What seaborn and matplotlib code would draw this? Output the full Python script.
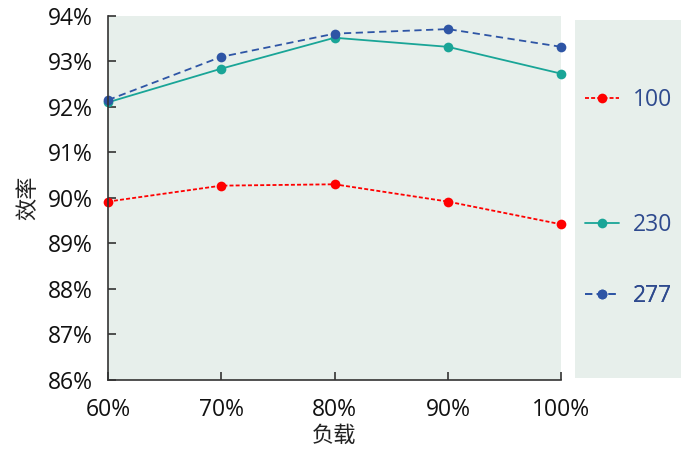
import pandas as pd
import matplotlib
matplotlib.use("Agg")
import matplotlib.pyplot as plt
from matplotlib.ticker import FuncFormatter
from matplotlib.lines import Line2D
import seaborn as sns

# data
loads = [60, 70, 80, 90, 100]
eff_100 = [89.92, 90.27, 90.30, 89.92, 89.42]
eff_230 = [92.10, 92.84, 93.52, 93.32, 92.73]
eff_277 = [92.15, 93.10, 93.61, 93.71, 93.32]
series = ["100", "230", "277"]

df = pd.DataFrame({
    "load": loads * 3,
    "eff": eff_100 + eff_230 + eff_277,
    "series": [s for s in series for _ in loads],
})

sns.set_style("ticks")
plt.rcParams["font.family"] = ["Open Sans", "Noto Sans CJK SC", "DejaVu Sans"]

bg = "#E7EFEB"
colors = {"100": "#FF0000", "230": "#19A597", "277": "#2E55A5"}
dashes = {"100": (2.2, 1.2), "230": "", "277": (4, 2.5)}

fig = plt.figure(figsize=(6.87, 4.54), dpi=100)
ax = fig.add_axes([0.157, 0.163, 0.66, 0.802])
ax.set_facecolor(bg)

sns.lineplot(
    data=df, x="load", y="eff", hue="series", style="series",
    palette=colors, dashes=dashes, markers={s: "o" for s in series},
    markersize=7, markeredgewidth=0, linewidth=1.3, legend=False,
    ax=ax, clip_on=False
)

ax.set_xlim(60, 100)
ax.set_ylim(86, 94)
ax.set_xticks(loads)
ax.set_yticks(range(86, 95))
ax.xaxis.set_major_formatter(FuncFormatter(lambda v, p: f"{v:.0f}%"))
ax.yaxis.set_major_formatter(FuncFormatter(lambda v, p: f"{v:.0f}%"))
ax.tick_params(direction="in", length=6, width=1.2, color="#333333",
               labelsize=16.5, labelcolor="#111111")
ax.tick_params(axis="y", pad=11)
ax.tick_params(axis="x", pad=13)
for side in ["top", "right"]:
    ax.spines[side].set_visible(False)
for side in ["left", "bottom"]:
    ax.spines[side].set_color("#333333")
    ax.spines[side].set_linewidth(1.2)

ax.set_xlabel("负载", fontsize=16, color="#222222")
ax.set_ylabel("效率", fontsize=16, color="#222222")
ax.xaxis.set_label_coords(0.5, -0.125)
ax.yaxis.set_label_coords(-0.152, 0.5)

# legend panel on the right
lax = fig.add_axes([0.837, 0.167, 0.154, 0.789])
lax.set_facecolor(bg)
lax.set_xticks([])
lax.set_yticks([])
for s in lax.spines.values():
    s.set_visible(False)

legend_y = {"100": 0.777, "230": 0.427, "277": 0.229}
for s in series:
    h = Line2D([], [], color=colors[s], marker="o", markersize=7,
               markeredgewidth=0, linewidth=1.3,
               linestyle=(0, dashes[s]) if dashes[s] else "-")
    leg = lax.legend([h], [s], loc="center left", bbox_to_anchor=(0.094, legend_y[s]),
                     frameon=False, handlelength=1.5, handletextpad=0.6,
                     borderpad=0, borderaxespad=0,
                     fontsize=16.5, labelcolor="#2E4A8E")
    lax.add_artist(leg)

fig.savefig("out.png", dpi=100)
